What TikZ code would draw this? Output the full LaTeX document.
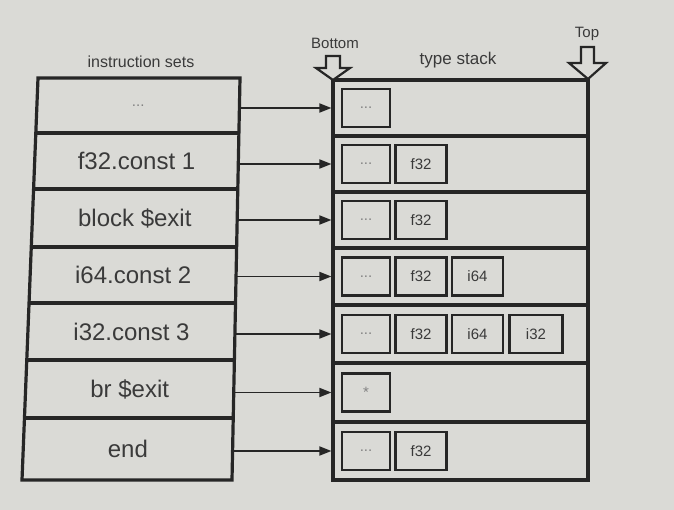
\documentclass[tikz,border=0pt]{standalone}
\usepackage{fontspec}
\setmainfont{Liberation Sans}
\usetikzlibrary{arrows.meta}
\definecolor{paper}{RGB}{218,218,214}
\definecolor{ink}{RGB}{38,38,38}
\definecolor{txt}{RGB}{58,58,58}
\definecolor{dim}{RGB}{130,130,130}
\begin{document}
\begin{tikzpicture}[x=1pt,y=-1pt,
  instr/.style={inner sep=0pt,font=\fontsize{24}{28}\selectfont,text=txt},
  frame/.style={draw=ink,line width=3.2pt,line join=miter},
  srow/.style={draw=ink,line width=3.2pt,minimum width=255pt,inner sep=0pt},
  cell/.style={draw=ink,line width=2.2pt,minimum height=38pt,inner sep=0pt,font=\fontsize{15}{18}\selectfont,text=txt},
  dimcell/.style={cell,text=dim},
  arr/.style={draw=ink,line width=1.8pt,-{Triangle[length=12pt,width=9pt]}},
  hollow/.style={draw=ink,line width=2.2pt,fill=paper,line join=miter},
  head/.style={font=\fontsize{16}{19}\selectfont,text=txt}]
\fill[paper] (0,0) rectangle (674,510);
\useasboundingbox (0,0) rectangle (674,510);

% headings
\node[head] (hinstr) at (141,62) {instruction sets};
\node[head,font=\fontsize{17}{20}\selectfont] (htype) at (458,60) {type stack};
\node[head,font=\fontsize{15}{18}\selectfont] (hbot) at (335,43) {Bottom};
\node[head,font=\fontsize{15}{18}\selectfont] (htop) at (587,34) {Top};

% instruction rows (texts; the frame is skewed like the photo)
\node[instr,minimum width=202.6pt,minimum height=55pt,text=dim,font=\fontsize{15}{18}\selectfont] (l1) at (138.2,105.5) {...};
\node[instr,minimum width=203.6pt,minimum height=56pt] (l2) at (136.5,161) {f32.const 1};
\node[instr,minimum width=204.8pt,minimum height=58pt] (l3) at (134.8,218) {block \$exit};
\node[instr,minimum width=205.9pt,minimum height=56pt] (l4) at (133.2,275) {i64.const 2};
\node[instr,minimum width=207.1pt,minimum height=57pt] (l5) at (131.5,331.5) {i32.const 3};
\node[instr,minimum width=208.2pt,minimum height=58pt] (l6) at (129.7,389) {br \$exit};
\node[instr,minimum width=209.4pt,minimum height=62pt] (l7) at (127.9,449) {end};

\draw[frame] (38,78) -- (240,78) -- (232,480) -- (22,480) -- cycle;
\draw[frame] (35.8,133) -- (238.9,133);
\draw[frame] (33.6,189) -- (237.8,189);
\draw[frame] (31.3,247) -- (236.6,247);
\draw[frame] (29.0,303) -- (235.5,303);
\draw[frame] (26.8,360) -- (234.4,360);
\draw[frame] (24.5,418) -- (233.2,418);

% type stack rows
\node[srow,minimum height=56pt] (s1) at (460.5,108) {};
\node[srow,minimum height=56pt] (s2) at (460.5,164) {};
\node[srow,minimum height=56pt] (s3) at (460.5,220) {};
\node[srow,minimum height=57pt] (s4) at (460.5,276.5) {};
\node[srow,minimum height=58pt] (s5) at (460.5,334) {};
\node[srow,minimum height=59pt] (s6) at (460.5,392.5) {};
\node[srow,minimum height=58pt] (s7) at (460.5,451) {};

% cells
\node[dimcell,minimum width=48pt] (c11) at (366,0 |- s1) {...};

\node[dimcell,minimum width=48pt] (c21) at (366,0 |- s2) {...};
\node[cell,minimum width=51pt] (c22) at (421,0 |- s2) {f32};

\node[dimcell,minimum width=48pt] (c31) at (366,0 |- s3) {...};
\node[cell,minimum width=51pt] (c32) at (421,0 |- s3) {f32};

\node[dimcell,minimum width=48pt] (c41) at (366,0 |- s4) {...};
\node[cell,minimum width=51pt] (c42) at (421,0 |- s4) {f32};
\node[cell,minimum width=51pt] (c43) at (477.5,0 |- s4) {i64};

\node[dimcell,minimum width=48pt] (c51) at (366,0 |- s5) {...};
\node[cell,minimum width=51pt] (c52) at (421,0 |- s5) {f32};
\node[cell,minimum width=51pt] (c53) at (477.5,0 |- s5) {i64};
\node[cell,minimum width=53pt] (c54) at (536,0 |- s5) {i32};

\node[dimcell,minimum width=48pt] (c61) at (366,0 |- s6) {*};

\node[dimcell,minimum width=48pt] (c71) at (366,0 |- s7) {...};
\node[cell,minimum width=51pt] (c72) at (421,0 |- s7) {f32};

% connectors
\foreach \i in {1,...,7}
  \draw[arr] (l\i.east |- s\i.west) -- (s\i.west);

% hollow Bottom / Top arrows
\draw[hollow] (326,56) -- (340,56) -- (340,68) -- (350,68) -- (333,80) -- (316,68) -- (326,68) -- cycle;
\draw[hollow] (581,47) -- (594,47) -- (594,63) -- (606,63) -- (588,79) -- (569,63) -- (581,63) -- cycle;
\end{tikzpicture}
\end{document}
